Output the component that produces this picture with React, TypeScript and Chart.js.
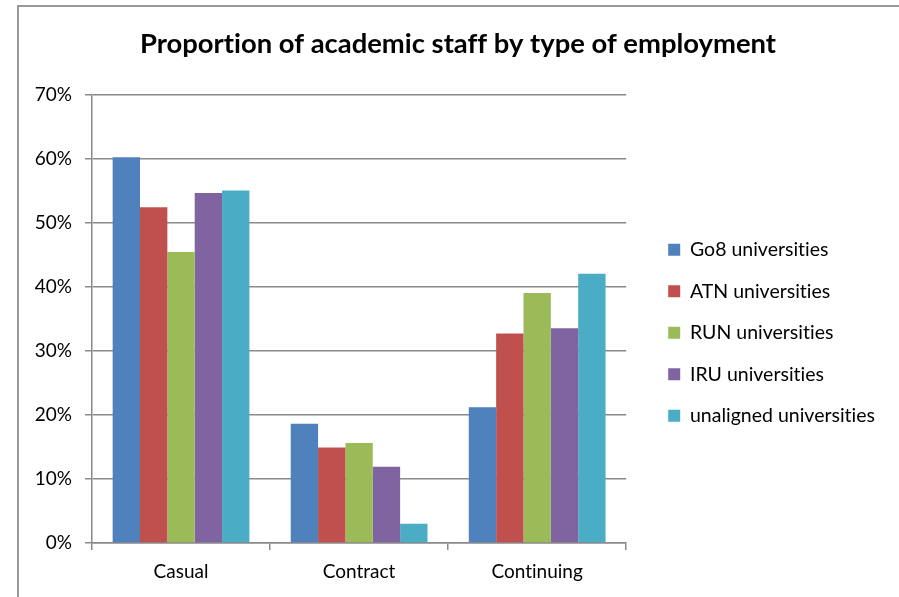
import React, { useEffect, useRef } from "react";
import { Chart, registerables } from "chart.js";

Chart.register(...registerables);

const categories = ["Casual", "Contract", "Continuing"];
const seriesNames = [
  "Go8 universities",
  "ATN universities",
  "RUN universities",
  "IRU universities",
  "unaligned universities",
];
const go8 = [60.2, 18.6, 21.2];
const atn = [52.4, 14.9, 32.7];
const run = [45.4, 15.6, 39.0];
const iru = [54.6, 11.9, 33.5];
const unaligned = [55.0, 3.0, 42.0];
const seriesColors = ["#4F81BD", "#C0504D", "#9BBB59", "#8064A2", "#4BACC6"];
const yMin = 0;
const yMax = 70;
const yStep = 10;
const titleText = "Proportion of academic staff by type of employment";

const GRID = "#8a8a8a";

const noLigatures = {
  id: "noLigatures",
  beforeInit(chart: any) {
    chart.ctx.textRendering = "optimizeSpeed";
  },
  beforeUpdate(chart: any) {
    chart.ctx.textRendering = "optimizeSpeed";
  },
  beforeDraw(chart: any) {
    chart.ctx.textRendering = "optimizeSpeed";
  },
};

export default function App() {
  const ref = useRef<HTMLCanvasElement | null>(null);

  useEffect(() => {
    if (!ref.current) return;
    const values = [go8, atn, run, iru, unaligned];
    const chart = new Chart(ref.current, {
      type: "bar",
      plugins: [noLigatures],
      data: {
        labels: categories,
        datasets: values.map((v, i) => ({
          label: seriesNames[i],
          data: v,
          backgroundColor: seriesColors[i],
          borderWidth: 0,
          barPercentage: 1,
          categoryPercentage: 0.768,
          yAxisID: "y",
        })),
      },
      options: {
        responsive: false,
        animation: false,
        layout: { padding: { left: 31, right: 14, top: 5, bottom: 14 } },
        plugins: {
          tooltip: { enabled: false },
          title: {
            display: true,
            text: titleText,
            color: "#000",
            font: { family: "Lato", size: 27.4, weight: "bold" },
            padding: { top: 23, bottom: 33.5 },
          },
          legend: {
            display: true,
            position: "right",
            fullSize: false,
            align: "center",
            maxWidth: 400,
            title: { display: true, text: "", padding: 0, font: { size: 23.5 } },
            labels: {
              color: "#000",
              font: { family: "Lato", size: 19.5 },
              boxWidth: 12,
              boxHeight: 12,
              padding: 22,
            },
          },
        },
        scales: {
          x: {
            afterFit: (s: any) => {
              s.height = 40;
            },
            grid: {
              display: true,
              drawOnChartArea: false,
              drawTicks: true,
              tickLength: 7,
              color: GRID,
              lineWidth: 1.5,
            },
            border: { display: true, color: GRID, width: 1.5 },
            ticks: {
              color: "#000",
              font: { family: "Lato", size: 19 },
              padding: 10,
            },
          },
          y: {
            min: yMin,
            max: yMax,
            afterFit: (s: any) => {
              s.width = 61;
            },
            grid: {
              color: GRID,
              lineWidth: 1.5,
              drawTicks: true,
              tickLength: 7,
            },
            border: { display: true, color: GRID, width: 1.5 },
            ticks: {
              stepSize: yStep,
              color: "#000",
              font: { family: "Lato", size: 19 },
              padding: 13,
              callback: (v: any) => v + "%",
            },
          },
          y2: {
            type: "linear",
            position: "right",
            display: true,
            grid: { display: false },
            border: { display: false },
            ticks: { display: false },
            afterFit: (s: any) => {
              s.width = 20;
            },
          },
        },
      },
    });
    return () => chart.destroy();
  }, []);

  return (
    <div style={{ position: "absolute", left: 0, top: 0, width: 899, height: 597, background: "#fff" }}>
      <div
        style={{
          position: "absolute",
          left: 17,
          top: 5,
          right: 0,
          bottom: 0,
          borderLeft: "2px solid #999",
          borderTop: "2px solid #999",
        }}
      />
      <canvas ref={ref} width={899} height={597} style={{ position: "absolute", left: 0, top: 0 }} />
    </div>
  );
}
